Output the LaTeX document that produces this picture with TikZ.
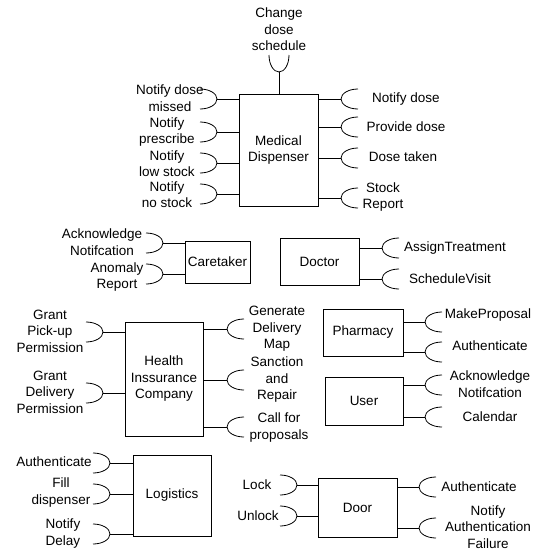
\documentclass[tikz,border=0pt]{standalone}
\usepackage{fontspec}
\setmainfont{Liberation Sans}
\begin{document}
\begin{tikzpicture}[x=1pt,y=-1pt,
  wire/.style={line width=0.8pt},
  comp/.style={draw,line width=0.8pt,inner sep=0pt,align=center},
  lbl/.style={inner sep=0pt,align=center},
  every node/.style={font=\fontsize{13.5}{16.5}\selectfont},
  % required-interface sockets, anchored at the point where the wire meets them
  sockL/.pic={\draw[wire] (-17pt,10pt) arc[start angle=90,end angle=-90,x radius=17pt,y radius=10pt];},
  sockR/.pic={\draw[wire] (17pt,10pt) arc[start angle=90,end angle=270,x radius=17pt,y radius=10pt];},
  sockU/.pic={\draw[wire] (-10pt,17pt) arc[start angle=180,end angle=360,x radius=10pt,y radius=17pt];}
]
\path[use as bounding box] (0,0) rectangle (540,552);

% ---------- components ----------
\node[comp,minimum width=79pt,minimum height=112pt] (md)   at (278.5,150)   {Medical\\Dispenser};
\node[comp,minimum width=65pt,minimum height=42pt]  (care) at (217.5,262)   {Caretaker};
\node[comp,minimum width=79pt,minimum height=47pt]  (doc)  at (319.5,261.5) {Doctor};
\node[comp,minimum width=78pt,minimum height=114pt] (hic)  at (164,379)     {Health\\Inssurance\\Company};
\node[comp,minimum width=80pt,minimum height=47pt]  (ph)   at (363,332.5)   {Pharmacy};
\node[comp,minimum width=78pt,minimum height=48pt]  (usr)  at (364,401)     {User};
\node[comp,minimum width=78pt,minimum height=81pt]  (log)  at (172,495.5)   {Logistics};
\node[comp,minimum width=79pt,minimum height=59pt]  (door) at (357.5,507.5) {Door};

% ---------- Medical Dispenser ----------
\coordinate (mdT) at (279,72);
\pic at (mdT) {sockU};
\draw[wire] (mdT) -- (md.north -| mdT);
\node[lbl] (lmdT) at (279,29.5) {Change\\dose\\schedule};

\foreach \n/\y in {1/99,2/132,3/163,4/194}{
  \coordinate (mdL\n) at (217,\y);
  \pic at (mdL\n) {sockL};
  \draw[wire] (mdL\n) -- (md.west |- mdL\n);
}
\node[lbl] (lmdL1) at (170,98)    {Notify dose\\missed};
\node[lbl] (lmdL2) at (167,132)   {Notify\\prescribe};
\node[lbl] (lmdL3) at (167,163.5) {Notify\\low stock};
\node[lbl] (lmdL4) at (167,194.5) {Notify\\no stock};

\foreach \n/\y in {1/99,2/127,3/158,4/198}{
  \coordinate (mdR\n) at (341,\y);
  \pic at (mdR\n) {sockR};
  \draw[wire] (md.east |- mdR\n) -- (mdR\n);
}
\node[lbl] (lmdR1) at (406,99)  {Notify dose};
\node[lbl] (lmdR2) at (406,127) {Provide dose};
\node[lbl] (lmdR3) at (403,157) {Dose taken};
\node[lbl] (lmdR4) at (383,197) {Stock\\Report};

% ---------- Caretaker ----------
\foreach \n/\y in {1/243,2/274}{
  \coordinate (caL\n) at (163,\y);
  \pic at (caL\n) {sockL};
  \draw[wire] (caL\n) -- (care.west |- caL\n);
}
\node[lbl] (lcaL1) at (102,242) {Acknowledge\\Notifcation};
\node[lbl] (lcaL2) at (117,277) {Anomaly\\Report};

% ---------- Doctor ----------
\foreach \n/\y in {1/248,2/279}{
  \coordinate (doR\n) at (382,\y);
  \pic at (doR\n) {sockR};
  \draw[wire] (doc.east |- doR\n) -- (doR\n);
}
\node[lbl] (ldoR1) at (455,248) {AssignTreatment};
\node[lbl] (ldoR2) at (450,279) {ScheduleVisit};

% ---------- Health Insurance Company ----------
\foreach \n/\y in {1/332,2/393}{
  \coordinate (hiL\n) at (103,\y);
  \pic at (hiL\n) {sockL};
  \draw[wire] (hiL\n) -- (hic.west |- hiL\n);
}
\node[lbl] (lhiL1) at (50,331) {Grant\\Pick-up\\Permission};
\node[lbl] (lhiL2) at (50,392) {Grant\\Delivery\\Permission};

\foreach \n/\y in {1/329,2/380,3/427}{
  \coordinate (hiR\n) at (227,\y);
  \pic at (hiR\n) {sockR};
  \draw[wire] (hic.east |- hiR\n) -- (hiR\n);
}
\node[lbl] (lhiR1) at (277,329)   {Generate\\Delivery\\Map};
\node[lbl] (lhiR2) at (277,380)   {Sanction\\and\\Repair};
\node[lbl] (lhiR3) at (279,427.5) {Call for\\proposals};

% ---------- Pharmacy ----------
\foreach \n/\y in {1/322,2/352}{
  \coordinate (phR\n) at (425,\y);
  \pic at (phR\n) {sockR};
  \draw[wire] (ph.east |- phR\n) -- (phR\n);
}
\node[lbl] (lphR1) at (488,315) {MakeProposal};
\node[lbl] (lphR2) at (490,346) {Authenticate};

% ---------- User ----------
\foreach \n/\y in {1/385,2/417}{
  \coordinate (usR\n) at (425,\y);
  \pic at (usR\n) {sockR};
  \draw[wire] (usr.east |- usR\n) -- (usR\n);
}
\node[lbl] (lusR1) at (490,384) {Acknowledge\\Notifcation};
\node[lbl] (lusR2) at (490,417) {Calendar};

% ---------- Logistics ----------
\foreach \n/\y in {1/463,2/494,3/534}{
  \coordinate (loL\n) at (110,\y);
  \pic at (loL\n) {sockL};
  \draw[wire] (loL\n) -- (log.west |- loL\n);
}
\node[lbl] (lloL1) at (54,462)   {Authenticate};
\node[lbl] (lloL2) at (61,492.5) {Fill\\dispenser};
\node[lbl] (lloL3) at (63,533.5) {Notify\\Delay};

% ---------- Door ----------
\foreach \n/\y in {1/485,2/516}{
  \coordinate (drL\n) at (297,\y);
  \pic at (drL\n) {sockL};
  \draw[wire] (drL\n) -- (door.west |- drL\n);
}
\node[lbl] (ldrL1) at (257,485) {Lock};
\node[lbl] (ldrL2) at (258,516) {Unlock};

\foreach \n/\y in {1/487,2/528}{
  \coordinate (drR\n) at (419,\y);
  \pic at (drR\n) {sockR};
  \draw[wire] (door.east |- drR\n) -- (drR\n);
}
\node[lbl] (ldrR1) at (479,487) {Authenticate};
\node[lbl] (ldrR2) at (488,527) {Notify\\Authentication\\Failure};
\end{tikzpicture}
\end{document}
